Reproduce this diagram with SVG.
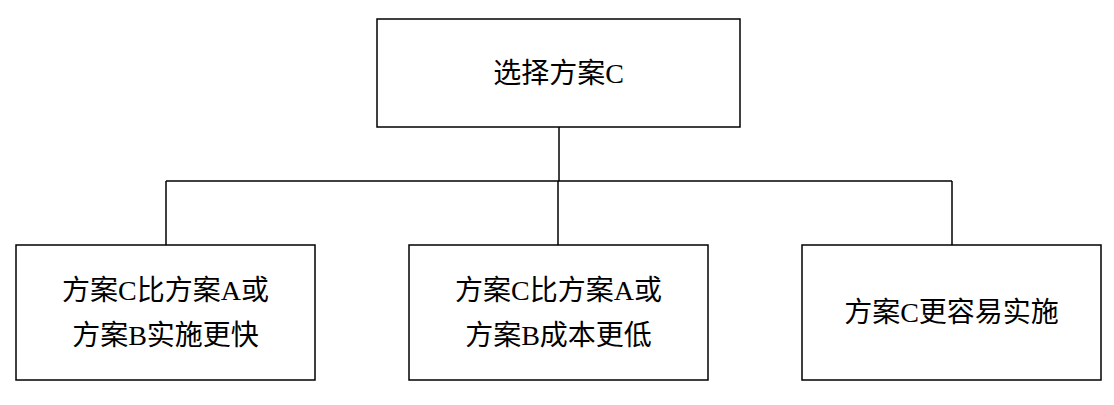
<svg xmlns="http://www.w3.org/2000/svg" width="1114" height="405" viewBox="0 0 1114 405">
  <style>
    .box { fill: #ffffff; stroke: #000000; stroke-width: 1.5; }
    .link { fill: none; stroke: #000000; stroke-width: 1.5; }
    .label { font-family: "Liberation Serif", "Noto Sans CJK SC", serif; font-size: 28px; fill: #000000; text-anchor: middle; }
  </style>
  <rect x="0" y="0" width="1114" height="405" fill="#ffffff"/>

  <g id="connectors">
    <path class="link" d="M559 127 V181"/>
    <path class="link" d="M166 181 H952"/>
    <path class="link" d="M166 181 V245"/>
    <path class="link" d="M558 181 V245"/>
    <path class="link" d="M952 181 V245"/>
  </g>

  <g id="root">
    <rect class="box" x="377" y="19" width="363" height="108"/>
    <text class="label" x="558.5" y="83">选择方案C</text>
  </g>

  <g id="reason-faster">
    <rect class="box" x="16" y="245" width="299" height="135"/>
    <text class="label" x="165.5" y="300">方案C比方案A或</text>
    <text class="label" x="165.5" y="345">方案B实施更快</text>
  </g>

  <g id="reason-cheaper">
    <rect class="box" x="409" y="245" width="299" height="135"/>
    <text class="label" x="558.5" y="300">方案C比方案A或</text>
    <text class="label" x="558.5" y="345">方案B成本更低</text>
  </g>

  <g id="reason-easier">
    <rect class="box" x="802" y="245" width="299" height="135"/>
    <text class="label" x="951.5" y="322">方案C更容易实施</text>
  </g>
</svg>
